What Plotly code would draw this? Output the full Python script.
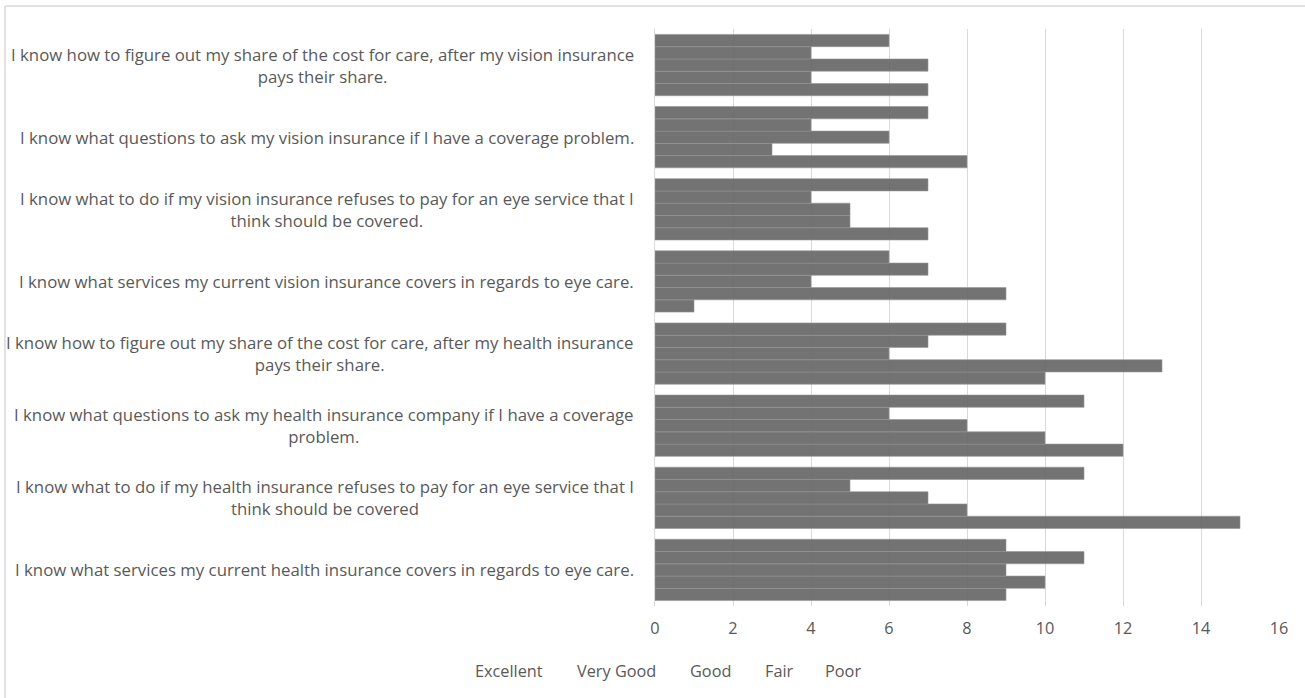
import plotly.graph_objects as go

categories = [
    "I know what services my current health insurance covers in regards to eye care.",
    "I know what to do if my health insurance refuses to pay for an eye service that I<br>think should be covered",
    "I know what questions to ask my health insurance company if I have a coverage<br>problem.",
    "I know how to figure out my share of the cost for care, after my health insurance<br>pays their share.",
    "I know what services my current vision insurance covers in regards to eye care.",
    "I know what to do if my vision insurance refuses to pay for an eye service that I<br>think should be covered.",
    "I know what questions to ask my vision insurance if I have a coverage problem.",
    "I know how to figure out my share of the cost for care, after my vision insurance<br>pays their share.",
]
series_names = ["Excellent", "Very Good", "Good", "Fair", "Poor"]
excellent = [9, 15, 12, 10, 1, 7, 8, 7]
very_good = [10, 8, 10, 13, 9, 5, 3, 4]
good = [9, 7, 8, 6, 4, 5, 6, 7]
fair = [11, 5, 6, 7, 7, 4, 4, 4]
poor = [9, 11, 11, 9, 6, 7, 7, 6]
x_ticks = [0, 2, 4, 6, 8, 10, 12, 14, 16]

series_values = [excellent, very_good, good, fair, poor]
FONT = "Open Sans"
TXT = "#595959"
BAR = "rgba(100,100,100,0.9)"

W, H = 1305, 698
L, R, T, B = 655, 26, 29, 92
pw, ph = W - L - R, H - T - B
def px(xp):
    return (xp - L) / pw
def py(yp):
    return (H - B - yp) / ph

fig = go.Figure()
for name, vals in zip(series_names, series_values):
    fig.add_trace(go.Bar(y=categories, x=vals, name=name, orientation="h",
                         marker=dict(color=BAR, line=dict(width=1, color="rgba(150,150,150,0.6)")),
                         showlegend=False))

annotations = []
for c in categories:
    annotations.append(dict(x=0, y=c, xref="paper", yref="y", text=c, showarrow=False,
                            xanchor="right", yanchor="middle", align="center", xshift=-19,
                            font=dict(family=FONT, size=16.8, color=TXT)))

# legend labels (the reference legend shows no visible markers)
legend_centers_px = [509, 616, 710, 779, 843]
for name, cx in zip(series_names, legend_centers_px):
    annotations.append(dict(x=px(cx), y=py(671), xref="paper", yref="paper", text=name,
                            showarrow=False, xanchor="center", yanchor="middle",
                            font=dict(family=FONT, size=16.3, color=TXT)))

shapes = [
    dict(type="line", xref="paper", yref="paper", x0=px(5), x1=px(W), y0=py(6), y1=py(6),
         line=dict(color="#d9d9d9", width=1.5)),
    dict(type="line", xref="paper", yref="paper", x0=px(5), x1=px(5), y0=py(6), y1=py(H),
         line=dict(color="#d9d9d9", width=1.5)),
]

fig.update_layout(
    width=W, height=H,
    margin=dict(l=L, r=R, t=T, b=B),
    paper_bgcolor="white", plot_bgcolor="white",
    barmode="group", bargap=0.15, bargroupgap=0,
    showlegend=False,
    font=dict(family=FONT, size=16, color=TXT),
    xaxis=dict(range=[0, 16], tickvals=x_ticks, showgrid=True, gridcolor="#d9d9d9",
               gridwidth=1, zeroline=False, showline=False, ticks="",
               ticklabelstandoff=11, tickfont=dict(family=FONT, size=16.3, color=TXT),
               fixedrange=True),
    yaxis=dict(showticklabels=False, showgrid=False, zeroline=False, showline=True,
               linecolor="#d9d9d9", linewidth=1, ticks="", fixedrange=True),
    annotations=annotations,
    shapes=shapes,
)

fig.write_html("out.html")
